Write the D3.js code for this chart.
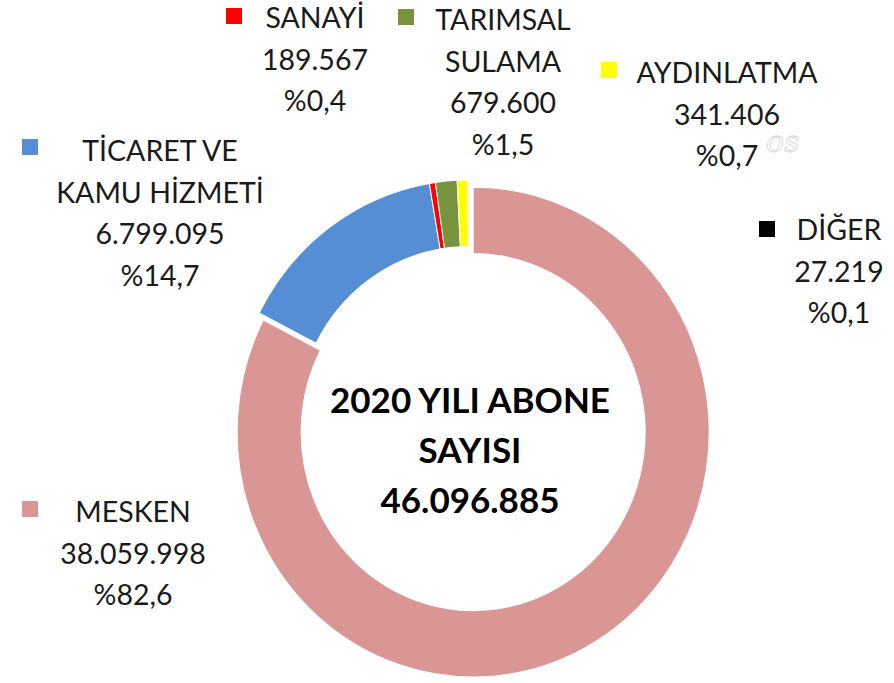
<!DOCTYPE html>
<html><head><meta charset="utf-8">
<script src="https://cdn.jsdelivr.net/npm/d3@7"></script>
<style>html,body{margin:0;padding:0;background:#fff}svg{display:block}</style>
</head><body>
<svg id="c" width="894" height="683"></svg>
<script>
// ---- data ----
const categories = ["MESKEN", "TİCARET VE KAMU HİZMETİ", "SANAYİ", "TARIMSAL SULAMA", "AYDINLATMA", "DİĞER"];
const nameLines = [["MESKEN"], ["TİCARET VE", "KAMU HİZMETİ"], ["SANAYİ"], ["TARIMSAL", "SULAMA"], ["AYDINLATMA"], ["DİĞER"]];
const values = [38059998, 6799095, 189567, 679600, 341406, 27219];
const colors = ["#D99694", "#558ED5", "#FF0000", "#77933C", "#FFFF00", "#000000"];
const titleLines = ["2020 YILI ABONE", "SAYISI"];

// ---- layout (not data) ----
const labelLayout = [
  {cx: 133, y: 522, mx: 22, my: 501},
  {cx: 160, y: 161, mx: 22, my: 139},
  {cx: 315, y: 28, mx: 226, my: 8},
  {cx: 503, y: 30, mx: 398, my: 9},
  {cx: 727, y: 83, mx: 601, my: 62},
  {cx: 839, y: 240, mx: 759, my: 221}
];
const lineH = 41.5;

const loc = d3.formatLocale({decimal: ",", thousands: ".", grouping: [3], currency: ["", ""]});
const fmtInt = loc.format(",d");
const fmtPct = loc.format(".1f");
const total = d3.sum(values);

const svg = d3.select("#c");
const cx = 469, cy = 425, R = 236, r = 172;
const g = svg.append("g").attr("transform", `translate(${cx},${cy}) scale(1,1.038)`);

const pie = d3.pie().sort(null).value(d => d.v).startAngle(0).endAngle(2 * Math.PI);
const arcs = pie(values.map((v, i) => ({v, i})));
const arc = d3.arc().innerRadius(r).outerRadius(R);

g.selectAll("path").data(arcs).join("path")
  .attr("d", arc)
  .attr("fill", d => colors[d.data.i])
  .attr("stroke", "#fff").attr("stroke-width", 1)
  .attr("transform", d => {
    if (d.data.i !== 0) return null;
    const a = (d.startAngle + d.endAngle) / 2, off = 8;
    return `translate(${Math.sin(a) * off},${-Math.cos(a) * off})`;
  });

// labels
const font = "Lato, 'Open Sans', sans-serif";
categories.forEach((c, i) => {
  const L = labelLayout[i];
  svg.append("rect").attr("x", L.mx).attr("y", L.my).attr("width", 16).attr("height", 16).attr("fill", colors[i]);
  const lines = nameLines[i].concat([fmtInt(values[i]), "%" + fmtPct(values[i] / total * 100)]);
  const t = svg.append("text").attr("font-family", font).attr("font-size", 28.5).attr("fill", "#1a1a1a").attr("text-anchor", "middle");
  lines.forEach((s, k) => {
    t.append("tspan").attr("x", L.cx).attr("y", L.y + k * lineH).text(s);
  });
});

// center title
const ct = svg.append("text").attr("font-family", font).attr("font-weight", "bold").attr("font-size", 35)
  .attr("fill", "#000").attr("text-anchor", "middle");
titleLines.concat([fmtInt(total)]).forEach((s, k) => {
  ct.append("tspan").attr("x", 470).attr("y", 413 + k * 50).text(s);
});

// faint signature mark
svg.append("text").attr("x", 766).attr("y", 152).attr("font-family", "DejaVu Serif, serif").attr("font-style", "italic")
  .attr("font-size", 30).attr("fill", "none").attr("stroke", "#d4d4d4").attr("stroke-width", 0.8).text("ᴏs");
</script>
</body></html>
